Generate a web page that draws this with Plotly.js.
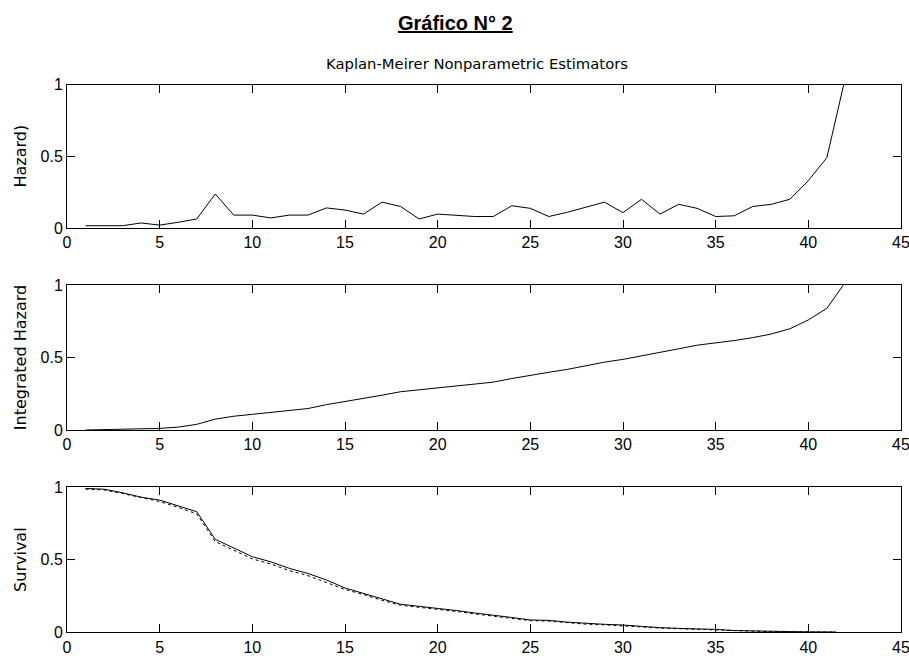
<!DOCTYPE html>
<html>
<head>
<meta charset="utf-8">
<script src="https://cdn.plot.ly/plotly-3.0.1.min.js"></script>
<style>html,body{margin:0;padding:0;background:#fff;}#chart{width:909px;height:656px;}</style>
</head>
<body>
<div id="chart"></div>
<script>
// ---- data ----
var hazardX = [1,2,3,4,5,6,7,8,9,10,11,12,13,14,15,16,17,18,19,20,21,22,23,24,25,26,27,28,29,30,31,32,33,34,35,36,37,38,39,40,41,42];
var hazardY = [0.016,0.016,0.016,0.035,0.02,0.04,0.063,0.237,0.09,0.09,0.07,0.09,0.09,0.14,0.125,0.097,0.18,0.15,0.063,0.097,0.09,0.08,0.08,0.155,0.137,0.08,0.11,0.145,0.18,0.107,0.2,0.097,0.165,0.137,0.08,0.085,0.15,0.165,0.2,0.33,0.49,1.05];

var intHazardX = [1,2,3,4,5,6,7,8,9,10,11,12,13,14,15,16,17,18,19,20,21,22,23,24,25,26,27,28,29,30,31,32,33,34,35,36,37,38,39,40,41,42];
var intHazardY = [0.0,0.003,0.005,0.008,0.011,0.02,0.039,0.075,0.095,0.108,0.12,0.135,0.148,0.175,0.195,0.215,0.24,0.264,0.278,0.292,0.305,0.318,0.33,0.355,0.378,0.398,0.418,0.444,0.468,0.487,0.51,0.532,0.56,0.585,0.6,0.617,0.637,0.662,0.698,0.759,0.839,1.02];

var survX = [1,2,3,4,5,6,7,8,9,10,11,12,13,14,15,16,17,18,19,20,21,22,23,24,25,26,27,28,29,30,31,32,33,34,35,36,37,38,39,40,41,41.5];
var survY = [0.99,0.985,0.96,0.93,0.91,0.87,0.83,0.64,0.578,0.52,0.485,0.44,0.405,0.36,0.305,0.27,0.23,0.193,0.18,0.165,0.15,0.133,0.119,0.102,0.085,0.082,0.07,0.06,0.055,0.05,0.04,0.032,0.027,0.024,0.02,0.012,0.008,0.006,0.005,0.003,0.002,0.002];
var survLowY = [0.985,0.98,0.955,0.925,0.9,0.86,0.815,0.625,0.565,0.505,0.47,0.425,0.39,0.345,0.295,0.26,0.22,0.186,0.173,0.158,0.144,0.127,0.113,0.097,0.08,0.077,0.066,0.056,0.051,0.046,0.037,0.029,0.024,0.021,0.017,0.01,0.006,0.004,0.003,0.002,0.001,0.001];

var xTicks = [0,5,10,15,20,25,30,35,40,45];
var yTicks = [0,0.5,1];
var yTickText = ['0','0.5','1'];
var yLabels = ['Hazard)','Integrated Hazard','Survival'];
var mainTitle = 'Gráfico N° 2';
var subTitle = 'Kaplan-Meirer Nonparametric Estimators';

// ---- layout ----
var W = 909, H = 656;
var font = 'Liberation Sans, Arial, sans-serif';
var wideFont = 'DejaVu Sans, Liberation Sans, sans-serif';
function ydom(top, bottom){ return [1 - bottom / H, 1 - top / H]; }

function xax(anchor){
  return {
    domain: [67 / W, 901 / W], range: [0, 45], anchor: anchor,
    tickmode: 'array', tickvals: xTicks, ticktext: xTicks.map(String),
    ticks: 'inside', ticklen: 8, tickcolor: '#000', tickwidth: 1,
    showline: true, linecolor: '#000', linewidth: 1, mirror: 'ticks',
    showgrid: false, zeroline: false, fixedrange: true,
    ticklabeloverflow: 'allow',
    tickfont: {family: font, size: 16, color: '#000'}
  };
}
function yax(anchor, dom, label){
  return {
    domain: dom, range: [0, 1], anchor: anchor,
    tickmode: 'array', tickvals: yTicks, ticktext: yTickText,
    ticks: 'inside', ticklen: 8, tickcolor: '#000', tickwidth: 1,
    showline: true, linecolor: '#000', linewidth: 1, mirror: 'ticks',
    showgrid: false, zeroline: false, fixedrange: true,
    ticklabelstandoff: 0,
    tickfont: {family: font, size: 16, color: '#000'},
    title: {text: label, font: {family: wideFont, size: 16, color: '#000'}, standoff: 9}
  };
}

var traces = [
  {x: hazardX, y: hazardY, xaxis: 'x', yaxis: 'y', mode: 'lines', line: {color: '#000', width: 1}},
  {x: intHazardX, y: intHazardY, xaxis: 'x2', yaxis: 'y2', mode: 'lines', line: {color: '#000', width: 1}},
  {x: survX, y: survLowY, xaxis: 'x3', yaxis: 'y3', mode: 'lines', line: {color: '#000', width: 1, dash: 'dot'}},
  {x: survX, y: survY, xaxis: 'x3', yaxis: 'y3', mode: 'lines', line: {color: '#000', width: 1}}
];

var layout = {
  width: W, height: H,
  margin: {l: 0, r: 0, t: 0, b: 0},
  paper_bgcolor: '#fff', plot_bgcolor: '#fff',
  showlegend: false,
  xaxis: xax('y'), yaxis: yax('x', ydom(84.5, 228), yLabels[0]),
  xaxis2: xax('y2'), yaxis2: yax('x2', ydom(285, 430), yLabels[1]),
  xaxis3: xax('y3'), yaxis3: yax('x3', ydom(487, 632.3), yLabels[2]),
  annotations: [
    {text: '<b><u>' + mainTitle + '</u></b>', xref: 'paper', yref: 'paper',
     x: 455 / W, y: 1 - 23 / H, xanchor: 'center', yanchor: 'middle', showarrow: false,
     font: {family: font, size: 20, color: '#000'}},
    {text: subTitle, xref: 'paper', yref: 'paper',
     x: 477 / W, y: 1 - 63 / H, xanchor: 'center', yanchor: 'middle', showarrow: false,
     font: {family: wideFont, size: 14.8, color: '#000'}}
  ]
};

Plotly.newPlot('chart', traces, layout, {staticPlot: true, displayModeBar: false});
</script>
</body>
</html>
